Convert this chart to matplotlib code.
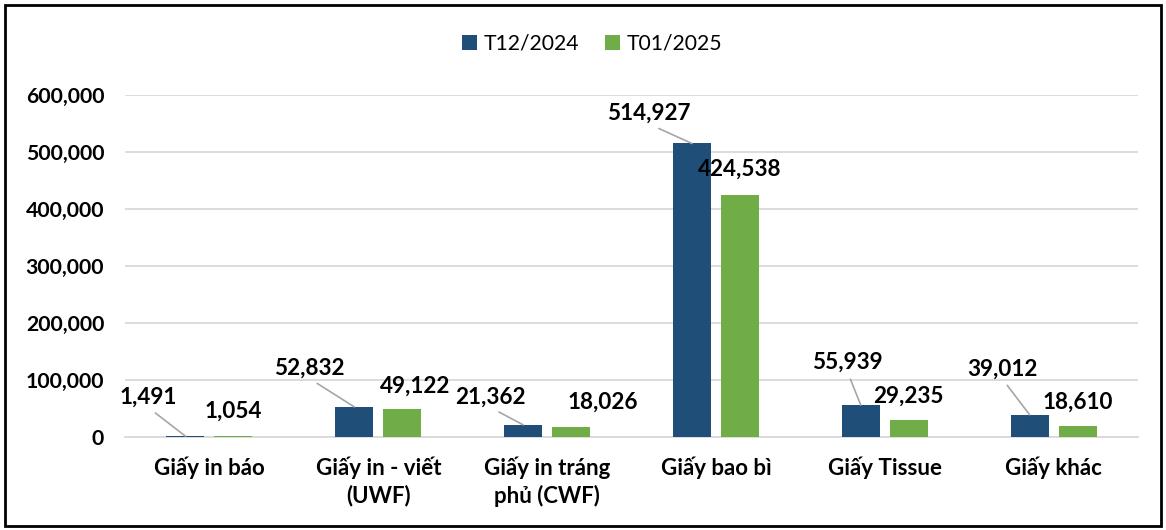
import matplotlib
matplotlib.use("Agg")
import matplotlib.pyplot as plt
import numpy as np
from matplotlib.patches import Rectangle
from matplotlib.ticker import FuncFormatter

categories = ["Giấy in báo", "Giấy in - viết\n(UWF)", "Giấy in tráng\nphủ (CWF)",
              "Giấy bao bì", "Giấy Tissue", "Giấy khác"]
series_names = ["T12/2024", "T01/2025"]
t12_2024 = [1491, 52832, 21362, 514927, 55939, 39012]
t01_2025 = [1054, 49122, 18026, 424538, 29235, 18610]
y_ticks = [0, 100000, 200000, 300000, 400000, 500000, 600000]

# label offsets in pixels (style only)
off_blue = [(-37, 39), (-45, 39), (-33, 28), (-43, 30), (-13, 43), (-27, 46)]
off_green = [(0, 25), (13, 23), (32, 25), (0, 26), (0, 24), (0, 24)]

plt.rcParams['font.family'] = ['Lato', 'DejaVu Sans']
plt.rcParams['font.weight'] = 'bold'

W, H = 1166, 530
fig = plt.figure(figsize=(W / 100, H / 100), dpi=100)
ax = fig.add_axes([125 / W, (H - 437) / H, (1138 - 125) / W, (437 - 95) / H])

blue = "#1F4E79"
green = "#70AD47"
x = np.arange(len(categories))
bw = 0.225
off = 0.142
b1 = ax.bar(x - off, t12_2024, bw, color=blue, label=series_names[0], zorder=3)
b2 = ax.bar(x + off, t01_2025, bw, color=green, label=series_names[1], zorder=3)

ax.set_xlim(-0.5, len(categories) - 0.5)
ax.set_ylim(0, 600000)
ax.set_yticks(y_ticks)
ax.yaxis.set_major_formatter(FuncFormatter(lambda v, p: f"{int(v):,}"))
ax.grid(axis='y', color='#D9D9D9', linewidth=1.3, zorder=0)
ax.set_axisbelow(True)
for s in ['top', 'right', 'left']:
    ax.spines[s].set_visible(False)
ax.spines['bottom'].set_color('#D9D9D9')
ax.spines['bottom'].set_linewidth(1.3)
ax.tick_params(axis='both', length=0)
ax.tick_params(axis='y', pad=15, labelsize=15.3)
ax.tick_params(axis='x', pad=14, labelsize=16)
ax.set_xticks(x)
ax.set_xticklabels(categories, linespacing=1.35)

for i in range(len(categories)):
    dx, dy = off_blue[i]
    ax.annotate(f"{t12_2024[i]:,}", xy=(x[i] - off, t12_2024[i]), xytext=(dx, dy),
                textcoords='offset pixels', ha='center', va='center', fontsize=16.2,
                fontweight='bold', zorder=5,
                arrowprops=dict(arrowstyle='-', color='#A6A6A6', lw=1.2,
                                relpos=(0.5, 0.0), shrinkA=3, shrinkB=0))
    dx, dy = off_green[i]
    ax.annotate(f"{t01_2025[i]:,}", xy=(x[i] + off, t01_2025[i]), xytext=(dx, dy),
                textcoords='offset pixels', ha='center', va='center', fontsize=16.2,
                fontweight='bold', zorder=5)

leg = fig.legend(handles=[b1, b2], labels=series_names, loc='center',
                 bbox_to_anchor=(592 / W, 1 - 44 / H), ncol=2, frameon=False,
                 fontsize=15.2, handlelength=0.72, handleheight=0.72, columnspacing=1.2,
                 handletextpad=0.3)
for t in leg.get_texts():
    t.set_fontweight('normal')

fig.patches.append(Rectangle((5 / W, 4 / H), (1161 - 5) / W, (525 - 4) / H,
                             transform=fig.transFigure, fill=False,
                             edgecolor='black', linewidth=2))

fig.savefig("out.png", dpi=100)
